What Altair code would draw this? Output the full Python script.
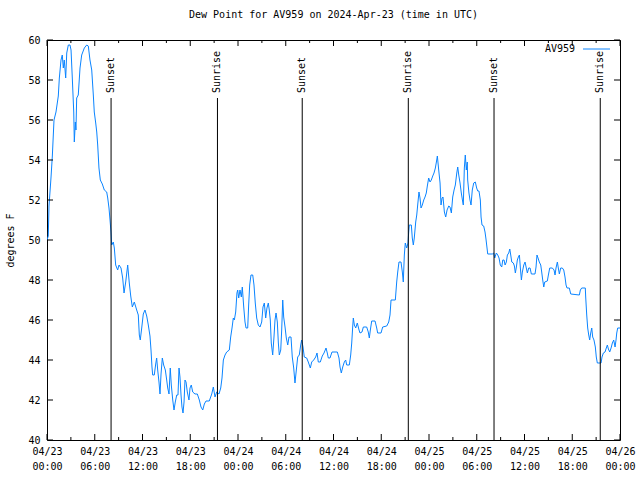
import altair as alt
import pandas as pd

# ---- data (hours since 2024-04-23 00:00 UTC, dew point in F)
hours = [
    0.00, 0.16, 0.25, 0.50, 0.67, 0.88, 1.13, 1.42, 1.55, 1.76, 1.92, 2.05, 2.17, 2.35, 2.48,
    2.68, 2.89, 3.02, 3.18, 3.36, 3.43, 3.56, 3.64, 3.73, 3.93, 4.15, 4.36, 4.69, 4.99, 5.19,
    5.40, 5.62, 5.82, 5.94, 6.12, 6.25, 6.37, 6.53, 6.70, 6.95, 7.20, 7.50, 7.63, 7.79, 7.92,
    8.04, 8.13, 8.33, 8.46, 8.63, 8.88, 9.05, 9.30, 9.51, 9.68, 9.89, 10.14, 10.34, 10.52, 10.72,
    10.97, 11.27, 11.47, 11.60, 11.72, 11.90, 12.10, 12.31, 12.53, 12.73, 12.94, 13.07, 13.19, 13.28, 13.48,
    13.66, 13.78, 13.91, 14.07, 14.20, 14.33, 14.49, 14.66, 14.87, 15.04, 15.17, 15.33, 15.49, 15.62, 15.80,
    15.96, 16.12, 16.30, 16.46, 16.59, 16.71, 16.84, 16.96, 17.09, 17.22, 17.34, 17.47, 17.63, 17.84, 17.97,
    18.13, 18.31, 18.60, 18.89, 19.14, 19.35, 19.57, 19.77, 19.98, 20.39, 20.70, 20.90, 21.11, 21.32, 21.61,
    21.83, 21.99, 22.16, 22.37, 22.58, 22.91, 23.08, 23.25, 23.41, 23.54, 23.71, 23.87, 23.96, 24.09, 24.25,
    24.42, 24.54, 24.72, 24.88, 25.01, 25.22, 25.34, 25.47, 25.63, 25.85, 26.01, 26.17, 26.35, 26.55, 26.77,
    26.98, 27.14, 27.31, 27.48, 27.64, 27.81, 27.93, 28.06, 28.18, 28.36, 28.52, 28.65, 28.78, 28.94, 29.07,
    29.19, 29.37, 29.49, 29.62, 29.74, 29.91, 30.07, 30.25, 30.41, 30.66, 30.82, 31.00, 31.16, 31.33, 31.50,
    31.70, 31.88, 32.00, 32.17, 32.33, 32.63, 32.83, 33.09, 33.26, 33.51, 33.76, 33.93, 34.09, 34.34, 34.59,
    34.81, 35.06, 35.22, 35.35, 35.56, 35.81, 36.48, 36.69, 36.82, 36.98, 37.16, 37.36, 37.53, 37.66, 37.99,
    38.16, 38.29, 38.41, 38.49, 38.62, 38.79, 38.99, 39.21, 39.33, 39.58, 39.75, 40.17, 40.37, 40.50, 40.63,
    40.80, 41.22, 41.43, 41.55, 41.97, 42.18, 42.69, 42.94, 43.10, 43.23, 43.77, 43.94, 44.07, 44.23, 44.48,
    44.65, 44.77, 44.90, 45.02, 45.20, 45.36, 45.45, 45.53, 45.78, 45.90, 46.03, 46.15, 46.33, 46.46, 46.58,
    46.74, 46.87, 47.00, 47.16, 47.34, 47.50, 47.66, 47.79, 47.96, 48.13, 48.29, 48.47, 48.63, 48.80, 48.97,
    49.05, 49.22, 49.39, 49.51, 49.64, 49.76, 49.93, 50.10, 50.27, 50.48, 50.64, 50.81, 50.98, 51.15, 51.31,
    51.49, 51.61, 51.74, 51.90, 52.06, 52.24, 52.31, 52.44, 52.56, 52.69, 52.81, 52.86, 53.02, 53.15, 53.28,
    53.44, 53.62, 53.82, 53.99, 54.12, 54.28, 54.45, 54.54, 54.66, 54.87, 55.04, 55.16, 55.29, 55.38, 55.96,
    56.13, 56.26, 56.46, 56.64, 56.80, 56.96, 57.14, 57.27, 57.43, 57.56, 57.72, 57.85, 58.02, 58.15, 58.27,
    58.40, 58.60, 58.73, 58.85, 58.98, 59.10, 59.23, 59.36, 59.48, 59.61, 59.73, 59.91, 60.07, 60.20, 60.36,
    60.53, 60.70, 60.86, 61.32, 61.45, 61.57, 61.70, 61.86, 62.04, 62.16, 62.29, 62.42, 62.54, 62.87, 63.00,
    63.17, 63.50, 63.71, 63.84, 63.96, 64.13, 64.25, 64.38, 64.55, 64.75, 64.93, 65.09, 65.22, 65.34, 65.63,
    65.81, 66.89, 67.02, 67.19, 67.64, 67.69, 67.82, 67.94, 68.07, 68.19, 68.32, 68.45, 68.57, 68.73, 68.90,
    69.02, 69.15, 69.62, 69.74, 69.91, 70.12, 70.28, 70.41, 70.54, 70.71, 70.88, 71.04, 71.21, 71.38, 71.50,
    71.59, 71.71, 72.00,
]
dewpoint = [
    50.0, 50.2, 51.7, 53.1, 54.2, 56.0, 56.4, 57.2, 58.1, 59.0, 59.25, 58.6, 59.0, 58.1, 59.35,
    59.75, 59.75, 59.5, 58.1, 56.4, 54.9, 55.9, 55.5, 57.1, 57.25, 58.6, 59.25, 59.6, 59.75, 59.7,
    59.0, 58.5, 57.25, 56.4, 55.85, 55.4, 54.75, 53.6, 53.0, 52.8, 52.5, 52.4, 52.1, 51.6, 51.0,
    50.4, 49.75, 49.9, 49.6, 48.75, 48.5, 48.75, 48.6, 48.1, 47.35, 47.9, 48.75, 47.85, 47.2, 46.65,
    46.9, 46.5, 46.25, 45.25, 45.0, 45.6, 46.3, 46.5, 46.2, 45.75, 45.2, 44.5, 43.65, 43.25, 43.25,
    43.8, 44.1, 43.5, 42.9, 42.3, 43.3, 44.1, 43.75, 43.5, 43.0, 42.6, 42.3, 43.6, 42.75, 42.0,
    41.5, 41.9, 42.25, 42.25, 43.6, 43.15, 42.25, 41.65, 41.35, 41.9, 43.0, 42.9, 42.4, 42.0, 42.6,
    42.75, 42.4, 42.3, 42.3, 42.0, 41.65, 41.5, 41.8, 41.95, 41.95, 42.3, 42.65, 42.15, 42.4, 42.3,
    42.6, 43.1, 44.0, 44.25, 44.4, 44.5, 45.15, 45.6, 46.1, 46.0, 46.4, 47.35, 47.5, 47.1, 47.5,
    47.15, 47.65, 46.65, 45.9, 45.6, 45.6, 46.75, 47.75, 48.25, 48.25, 47.75, 46.85, 46.1, 45.75, 45.65,
    45.9, 46.65, 46.85, 46.1, 46.6, 46.85, 46.5, 46.0, 44.85, 44.25, 45.15, 46.0, 46.35, 45.9, 44.85,
    44.25, 44.5, 45.5, 47.0, 46.15, 45.65, 45.1, 44.75, 45.15, 45.15, 44.15, 43.6, 42.85, 43.5, 44.15,
    44.25, 44.75, 45.0, 44.65, 44.15, 44.1, 43.9, 43.6, 43.9, 44.0, 44.15, 44.35, 43.9, 43.9, 44.2,
    44.35, 44.6, 44.35, 44.1, 44.1, 44.4, 44.4, 44.1, 43.65, 43.35, 43.65, 43.9, 44.0, 43.75, 43.75,
    44.25, 44.85, 45.65, 46.1, 45.75, 45.6, 45.85, 45.5, 45.35, 45.4, 45.65, 45.65, 45.4, 45.1, 45.5,
    45.95, 45.95, 45.6, 45.35, 45.35, 45.65, 45.7, 45.9, 46.25, 47.0, 47.0, 47.9, 48.4, 48.9, 48.9,
    48.4, 47.9, 49.25, 49.85, 49.6, 49.85, 50.4, 50.75, 50.75, 50.1, 49.75, 50.1, 50.9, 51.25, 51.75,
    52.4, 52.1, 51.6, 51.75, 52.0, 52.15, 52.35, 52.7, 53.1, 52.9, 53.0, 53.2, 53.35, 53.6, 54.0,
    54.2, 53.5, 52.85, 51.75, 52.1, 52.15, 51.4, 51.15, 51.5, 51.7, 51.65, 51.35, 52.15, 52.5, 52.75,
    53.35, 53.65, 53.25, 52.85, 52.35, 51.9, 51.75, 53.6, 54.25, 53.5, 53.9, 53.0, 52.35, 52.0, 51.75,
    52.5, 52.85, 52.9, 52.6, 52.45, 52.45, 52.0, 51.15, 50.75, 50.7, 50.4, 50.05, 49.6, 49.3, 49.3,
    49.35, 49.1, 49.35, 49.25, 49.1, 48.75, 48.65, 49.0, 49.0, 48.75, 48.9, 49.25, 49.35, 49.55, 49.25,
    48.9, 48.85, 48.7, 48.35, 48.65, 49.0, 49.15, 49.25, 48.6, 48.0, 48.4, 48.75, 48.9, 48.65, 48.35,
    48.6, 48.6, 48.3, 48.3, 48.65, 49.25, 49.1, 48.9, 48.75, 48.4, 48.0, 47.65, 47.9, 47.95, 48.25,
    48.6, 48.6, 48.5, 48.25, 48.6, 48.9, 48.6, 48.3, 48.6, 48.6, 48.5, 48.15, 47.75, 47.6, 47.6,
    47.3, 47.25, 47.5, 47.6, 47.6, 47.15, 46.25, 45.6, 45.25, 45.0, 45.35, 45.6, 45.15, 45.0, 44.65,
    44.15, 43.85, 43.85, 44.15, 44.35, 44.4, 44.6, 44.75, 44.55, 44.4, 44.6, 44.85, 45.0, 44.65, 45.0,
    45.35, 45.6, 45.6,
]

event_hours = [8.05, 21.42, 32.07, 45.40, 56.17, 69.52]
event_names = ["Sunset", "Sunrise", "Sunset", "Sunrise", "Sunset", "Sunrise"]
event_line_top = 57.1     # marker lines run from the bottom of the plot up to here (F)
event_label_base = 57.35  # labels start here and read upward (F)

x_major = list(range(0, 73, 6))
x_minor = list(range(3, 72, 6))
y_major = list(range(40, 61, 2))

series_name = "AV959"
title_text = "Dew Point for AV959 on 2024-Apr-23 (time in UTC)"
y_title = "degrees F"

FONT = "DejaVu Sans Mono"
LINE_COLOR = "#0a84ff"
W, H = 573, 400

# ---- tables
df = pd.DataFrame({"h": hours, "v": dewpoint})
ev = pd.DataFrame({"h": event_hours, "name": event_names,
                   "y0": [40] * len(event_hours), "y1": [event_line_top] * len(event_hours),
                   "ly": [event_label_base] * len(event_hours)})
xmaj = pd.DataFrame({"h": x_major})
xmin = pd.DataFrame({"h": x_minor})
ymaj = pd.DataFrame({"v": y_major})

xs = alt.Scale(domain=[0, 72], nice=False, zero=False)
ys = alt.Scale(domain=[40, 60], nice=False, zero=False)

label_expr = ("['04/' + (23 + floor(datum.value / 24)), "
              "(datum.value % 24 < 10 ? '0' : '') + (datum.value % 24) + ':00']")

x_axis = alt.Axis(values=x_major, ticks=False, domain=False, grid=False,
                  labelExpr=label_expr, labelFont=FONT, labelFontSize=10,
                  labelColor="black", labelPadding=6, labelLineHeight=15,
                  labelBaseline="top", labelFlush=False, labelOverlap=False,
                  title=None)
y_axis = alt.Axis(values=y_major, ticks=False, domain=False, grid=False,
                  labelFont=FONT, labelFontSize=10, labelColor="black",
                  labelPadding=7, title=y_title, titleFont=FONT,
                  titleFontSize=10, titleFontWeight="normal",
                  titleColor="black", titleAngle=270, titleX=-37, titleY=200,
                  titleAlign="center", titleBaseline="middle")

X = lambda f: alt.X(f, scale=xs, axis=x_axis, title=None)
Y = lambda f: alt.Y(f, scale=ys, axis=y_axis, title=y_title)

line = alt.Chart(df).mark_line(color=LINE_COLOR, strokeWidth=1, clip=True).encode(
    x=X("h:Q"), y=Y("v:Q"))

ev_rules = alt.Chart(ev).mark_rule(color="black", strokeWidth=1).encode(
    x=X("h:Q"), y=Y("y0:Q"), y2="y1:Q")
ev_text = alt.Chart(ev).mark_text(angle=270, align="left", baseline="middle", font=FONT,
                                  fontSize=10, color="black").encode(
    x=X("h:Q"), y=Y("ly:Q"), text="name:N")

def xticks(data, y_a, y_b):
    return alt.Chart(data).mark_rule(color="black", strokeWidth=1).encode(
        x=X("h:Q"), y=alt.value(y_a), y2=alt.value(y_b))

def yticks(x_a, x_b):
    return alt.Chart(ymaj).mark_rule(color="black", strokeWidth=1).encode(
        y=Y("v:Q"), x=alt.value(x_a), x2=alt.value(x_b))

tick_layers = [
    xticks(xmaj, H, H - 6), xticks(xmin, H, H - 3),
    xticks(xmaj, 0, 6), xticks(xmin, 0, 3),
    yticks(0, 6), yticks(W, W - 6),
]

legend_df = pd.DataFrame({"label": [series_name]})
legend_text = alt.Chart(legend_df).mark_text(align="right", baseline="middle", font=FONT,
                                             fontSize=10, color="black").encode(
    x=alt.value(528), y=alt.value(9), text="label:N")
legend_line = alt.Chart(legend_df).mark_rule(color=LINE_COLOR, strokeWidth=1).encode(
    x=alt.value(536), x2=alt.value(563), y=alt.value(9))

chart = alt.layer(line, ev_rules, ev_text, *tick_layers, legend_text, legend_line).properties(
    width=W, height=H,
    autosize=alt.AutoSizeParams(type="none"),
    padding={"left": 47, "top": 40, "right": 20, "bottom": 40},
    title=alt.Title(title_text, font=FONT, fontSize=10, fontWeight="normal", color="black",
                    anchor="middle", offset=15),
    background="white",
).configure_view(stroke="black", strokeWidth=1)

chart.save("out.html", embed_options={"renderer": "svg", "actions": False})
